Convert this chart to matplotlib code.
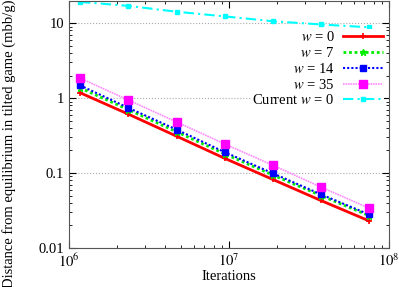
import matplotlib
matplotlib.use('Agg')
import matplotlib.pyplot as plt
import numpy as np

plt.rcParams['font.family'] = ['Liberation Serif', 'DejaVu Serif']
plt.rcParams['mathtext.fontset'] = 'stix'

iterations = [1.17e6, 2.35e6, 4.7e6, 9.4e6, 1.88e7, 3.75e7, 7.5e7]
w0 = [1.18, 0.61, 0.31, 0.157, 0.082, 0.043, 0.023]
w7 = [1.37, 0.70, 0.355, 0.180, 0.094, 0.050, 0.027]
w14 = [1.48, 0.74, 0.38, 0.19, 0.099, 0.052, 0.028]
w35 = [1.85, 0.94, 0.48, 0.244, 0.127, 0.065, 0.034]
current_w0 = [19.2, 17.0, 14.2, 12.3, 10.6, 9.6, 8.8]

fs = 10.5
fig = plt.figure(figsize=(3.99, 2.87), dpi=100)
ax = fig.add_axes([0.173, 0.136, 0.802, 0.862])

ax.plot(iterations, w0, color='red', lw=2, ls='-', marker='+', ms=4, mew=1.2, label='$w$ = 0')
ax.plot(iterations, w7, color='#00ee00', lw=2, ls=(0, (1, 1)), marker='*', ms=5, label='$w$ = 7')
ax.plot(iterations, w14, color='blue', lw=1.5, ls=(0, (1, 1)), marker='s', ms=4, label='$w$ = 14')
ax.plot(iterations, w35, color='#ff88ff', lw=1.2, ls=(0, (1, 0.5)), marker='s', ms=6,
        markerfacecolor='#ff00ff', markeredgecolor='#ff00ff', label='$w$ = 35')
ax.plot(iterations, current_w0, color='cyan', lw=1.5, ls=(0, (5, 2, 1, 2)), marker='s', ms=3.5,
        label='Current $w$ = 0')

ax.set_xscale('log')
ax.set_yscale('log')
ax.set_xlim(1e6, 1e8)
ax.set_ylim(0.01, 20)
ax.set_yticks([0.01, 0.1, 1, 10])
ax.set_yticklabels(['0.01', '0.1', '1', '10'])
ax.set_xticks([1e6, 1e7, 1e8])
ax.set_xticklabels(['$10^6$', '$10^7$', '$10^8$'])
ax.tick_params(which='both', direction='in', top=True, right=True, labelsize=fs)
ax.tick_params(which='major', length=5)
ax.tick_params(which='minor', length=2.5)
ax.yaxis.grid(True, which='major', color='#aaaaaa', ls=':', lw=0.8)
for s in ax.spines.values():
    s.set_color('#555555')

ax.set_xlabel('Iterations', fontsize=fs, labelpad=0)
fig.text(0.022, 0.5, 'Distance from equilibrium in tilted game (mbb/g)', fontsize=fs,
         rotation=90, ha='center', va='center')

leg = ax.legend(loc='upper right', bbox_to_anchor=(0.985, 0.885), fontsize=fs, frameon=True,
                markerfirst=False, handlelength=2.7, labelspacing=0.12, borderpad=0.1,
                borderaxespad=0, handletextpad=0.6)
leg.get_frame().set_facecolor('white')
leg.get_frame().set_edgecolor('none')
leg.get_frame().set_alpha(1)
for t in leg.get_texts():
    t.set_ha('right')

fig.savefig('out.png', dpi=100)
